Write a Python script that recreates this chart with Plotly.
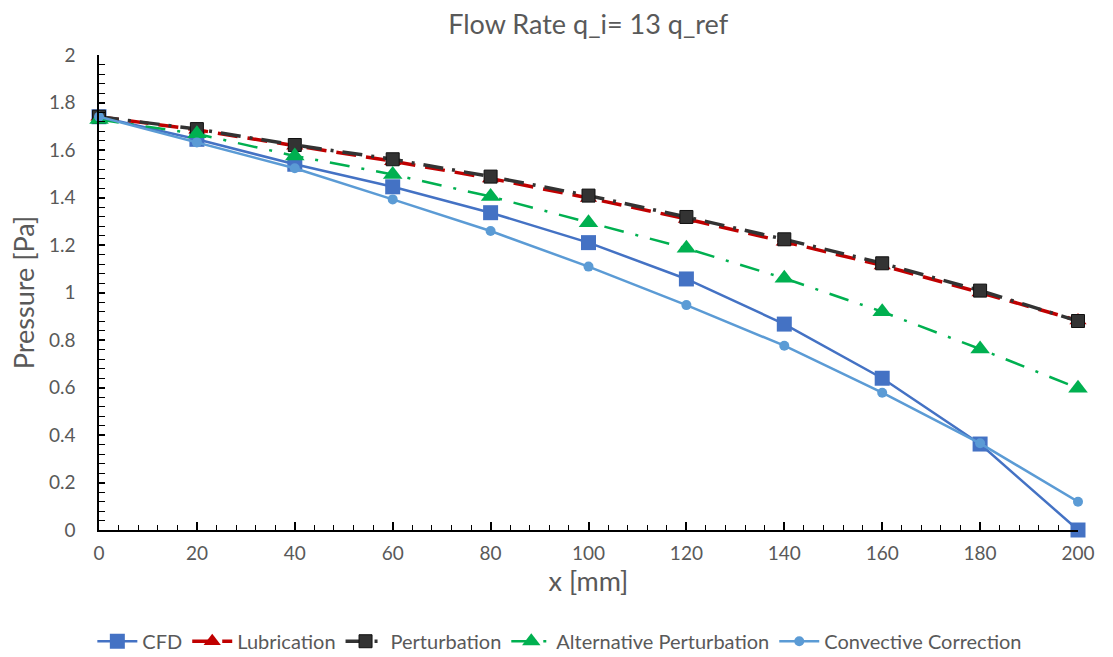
import plotly.graph_objects as go

x_mm = [0, 20, 40, 60, 80, 100, 120, 140, 160, 180, 200]
cfd = [1.74, 1.645, 1.54, 1.445, 1.336, 1.21, 1.057, 0.867, 0.639, 0.362, 0.0]
lubrication = [1.74, 1.685, 1.618, 1.553, 1.48, 1.398, 1.31, 1.214, 1.114, 1.0, 0.882]
perturbation = [1.74, 1.688, 1.621, 1.561, 1.488, 1.408, 1.318, 1.224, 1.123, 1.008, 0.88]
alternative = [1.728, 1.668, 1.575, 1.497, 1.404, 1.294, 1.186, 1.06, 0.919, 0.762, 0.597]
convective = [1.74, 1.632, 1.523, 1.392, 1.259, 1.109, 0.947, 0.776, 0.578, 0.365, 0.119]

title_text = "Flow Rate q_i= 13 q_ref"
x_title = "x [mm]"
y_title = "Pressure [Pa]"

FONT = "Lato"
GREY = "#595959"

fig = go.Figure()
fig.add_trace(go.Scatter(
    x=x_mm, y=cfd, name="CFD", mode="lines+markers",
    line=dict(color="#4472C4", width=2.5),
    marker=dict(symbol="square", size=15, color="#4472C4"),
    cliponaxis=False))
fig.add_trace(go.Scatter(
    x=x_mm, y=lubrication, name="Lubrication", mode="lines+markers",
    line=dict(color="#C00000", width=3.5, dash="20px,10px"),
    marker=dict(symbol="triangle-up", size=15, color="#C00000"),
    cliponaxis=False))
fig.add_trace(go.Scatter(
    x=x_mm, y=perturbation, name="Perturbation", mode="lines+markers",
    line=dict(color="#333333", width=3.5, dash="20px,9px,3px,9px"),
    marker=dict(symbol="square", size=13, color="#333333",
                line=dict(color="#111111", width=1)),
    cliponaxis=False))
fig.add_trace(go.Scatter(
    x=x_mm, y=alternative, name="Alternative Perturbation", mode="lines+markers",
    line=dict(color="#00B050", width=2.5, dash="20px,12px,3px,12px"),
    marker=dict(symbol="triangle-up", size=17, color="#00B050"),
    cliponaxis=False))
fig.add_trace(go.Scatter(
    x=x_mm, y=convective, name="Convective Correction", mode="lines+markers",
    line=dict(color="#5B9BD5", width=2.5),
    marker=dict(symbol="circle", size=10, color="#5B9BD5"),
    cliponaxis=False))

fig.update_layout(
    width=1113, height=657,
    margin=dict(l=99, r=35, t=55, b=127),
    paper_bgcolor="white", plot_bgcolor="white",
    font=dict(family=FONT, color=GREY, size=19),
    title=dict(text=title_text, x=0.5285, xanchor="center", y=0.962, yanchor="middle",
               font=dict(family=FONT, size=27, color=GREY)),
    showlegend=True,
    legend=dict(orientation="h", xref="container", x=0.503, xanchor="center",
                yref="container", y=0.024, yanchor="middle",
                font=dict(family=FONT, size=20, color=GREY),
                itemwidth=40, tracegroupgap=0),
)
fig.update_xaxes(
    range=[0, 200], dtick=20, tick0=0,
    showline=True, linecolor="black", linewidth=1.5,
    ticks="inside", ticklen=8, tickwidth=1.5, tickcolor="black",
    minor=dict(dtick=4, ticks="inside", ticklen=5, tickwidth=1.2, tickcolor="black"),
    showgrid=False, zeroline=False,
    tickfont=dict(family=FONT, size=19, color=GREY),
    ticklabelstandoff=5,
    title=dict(text=x_title, font=dict(family=FONT, size=27, color=GREY), standoff=8),
)
fig.update_yaxes(
    range=[0, 2], dtick=0.2, tick0=0,
    showline=True, linecolor="black", linewidth=1.5,
    ticks="inside", ticklen=6, tickwidth=1.5, tickcolor="black",
    minor=dict(dtick=0.04, ticks="inside", ticklen=6, tickwidth=1.2, tickcolor="black"),
    showgrid=False, zeroline=False,
    tickfont=dict(family=FONT, size=19, color=GREY),
    ticklabelstandoff=18,
    title=dict(text=y_title, font=dict(family=FONT, size=27, color=GREY), standoff=6),
)

fig.write_html("out.html")
